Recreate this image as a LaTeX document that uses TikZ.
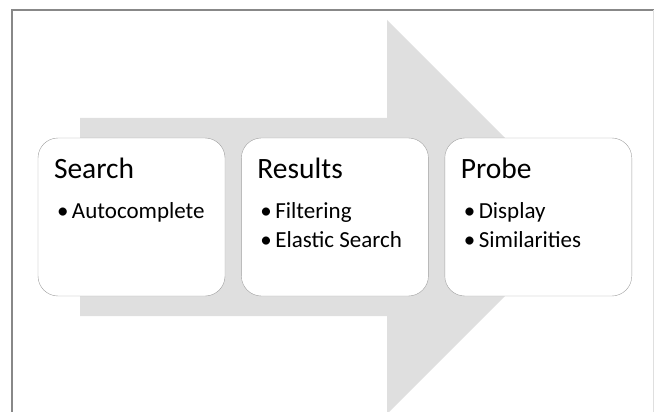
\documentclass[tikz,border=0pt]{standalone}
\usepackage{fontspec}
\setmainfont{Carlito}
\usetikzlibrary{positioning}

\definecolor{shaftgray}{RGB}{223,223,223}
\definecolor{framegray}{RGB}{136,136,136}
\definecolor{boxline}{RGB}{160,160,160}
\newcommand{\bul}{\makebox[15pt][l]{\textbullet}}

\begin{document}
\begin{tikzpicture}[x=1pt, y=-1pt,
  stage/.style={draw=boxline, fill=white, rounded corners=20pt, minimum width=187pt, minimum height=158pt, inner sep=0pt},
  title/.style={anchor=base west, inner sep=0pt, font=\fontsize{29.5}{34}\selectfont},
  items/.style={anchor=base west, inner sep=0pt, font=\fontsize{23}{29}\selectfont}]

\useasboundingbox (0,0) rectangle (654,412);

% frame of the slide
\draw[framegray, line width=2pt] (12,413) -- (12,10) -- (654,10);
\draw[gray!25] (653,10) -- (653,412);

% big arrow behind the stages
\fill[shaftgray] (80,118) -- (387,118) -- (387,20) -- (584,217) -- (387,414) -- (387,316) -- (80,316) -- cycle;

\node[stage] (search) at (131.5,217) {};
\node[stage, right=16pt of search] (results) {};
\node[stage, right=16pt of results] (probe) {};

\node[title] (searchT) at ([shift={(16pt,-41pt)}]search.north west) {Search};
\node[items] (searchI1) at ([shift={(19pt,-81pt)}]search.north west) {\bul Autocomplete};

\node[title] (resultsT) at ([shift={(16pt,-41pt)}]results.north west) {Results};
\node[items] (resultsI1) at ([shift={(19pt,-81pt)}]results.north west) {\bul Filtering};
\node[items] (resultsI2) at ([yshift=-29pt]resultsI1.base west) {\bul Elastic Search};

\node[title] (probeT) at ([shift={(16pt,-41pt)}]probe.north west) {Probe};
\node[items] (probeI1) at ([shift={(19pt,-81pt)}]probe.north west) {\bul Display};
\node[items] (probeI2) at ([yshift=-29pt]probeI1.base west) {\bul Similarities};

\end{tikzpicture}
\end{document}
